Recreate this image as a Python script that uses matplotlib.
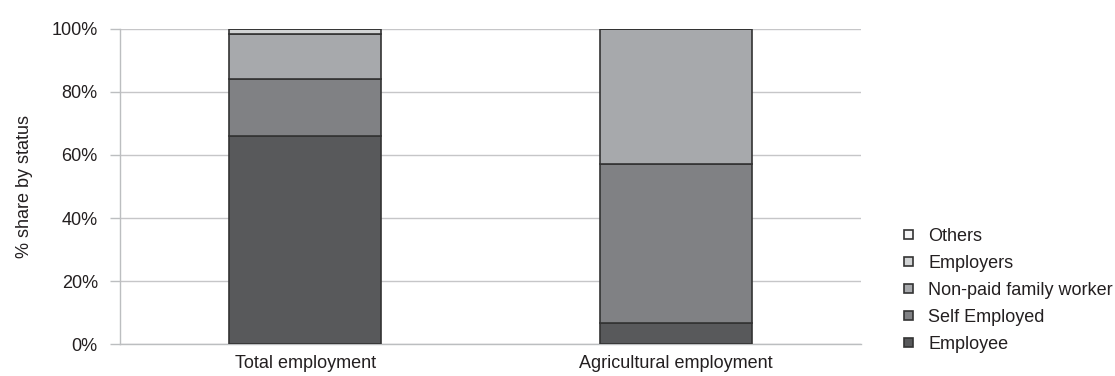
import matplotlib
matplotlib.use("Agg")
import matplotlib.pyplot as plt
from matplotlib.ticker import PercentFormatter

plt.rcParams['font.family'] = ['Liberation Sans Narrow', 'Liberation Sans', 'DejaVu Sans']

categories = ["Total employment", "Agricultural employment"]
series_names = ["Employee", "Self Employed", "Non-paid family worker", "Employers", "Others"]
employee = [65.9, 6.8]
self_employed = [18.3, 50.2]
non_paid = [14.3, 43.0]
employers = [1.5, 0.0]
others = [0.0, 0.0]
yticks = [0, 20, 40, 60, 80, 100]

colors = ["#58595b", "#808184", "#a7a9ac", "#d1d3d4", "#f4f4f5"]
values = [employee, self_employed, non_paid, employers, others]

fig = plt.figure(figsize=(11.15, 3.76), dpi=100)
ax = fig.add_axes([0.1076, 0.085, 0.6646, 0.838])

x = list(range(len(categories)))
bottom = [0.0] * len(categories)
handles = []
for name, vals, c in zip(series_names, values, colors):
    b = ax.bar(x, vals, bottom=bottom, width=0.41, color=c, edgecolor="#333333",
               linewidth=1.2, label=name, zorder=3)
    handles.append(b)
    bottom = [bb + v for bb, v in zip(bottom, vals)]

ax.set_xlim(-0.5, 1.5)
ax.set_ylim(0, 100)
ax.set_yticks(yticks)
ax.yaxis.set_major_formatter(PercentFormatter(decimals=0))
ax.set_xticks(x)
ax.set_xticklabels(categories)
ax.tick_params(axis='x', length=0, labelsize=13, pad=8, colors="#231f20")
ax.tick_params(axis='y', length=7, width=1, color="#bcbec0", labelsize=13, pad=9,
               labelcolor="#231f20")
ax.yaxis.grid(True, color="#c6c6c8", linewidth=1, zorder=0)
for s in ["top", "right"]:
    ax.spines[s].set_visible(False)
for s in ["left", "bottom"]:
    ax.spines[s].set_color("#bcbec0")
    ax.spines[s].set_linewidth(1)
ax.set_ylabel("% share by status", fontsize=13, color="#231f20", labelpad=13)

leg = ax.legend(handles[::-1], series_names[::-1], loc="center left",
                bbox_to_anchor=(1.058, 0.17), frameon=False, fontsize=13,
                handlelength=0.5, handleheight=0.35, handletextpad=0.85,
                labelspacing=0.55, borderaxespad=0, borderpad=0)
for t in leg.get_texts():
    t.set_color("#231f20")

fig.savefig("out.png", dpi=100)
